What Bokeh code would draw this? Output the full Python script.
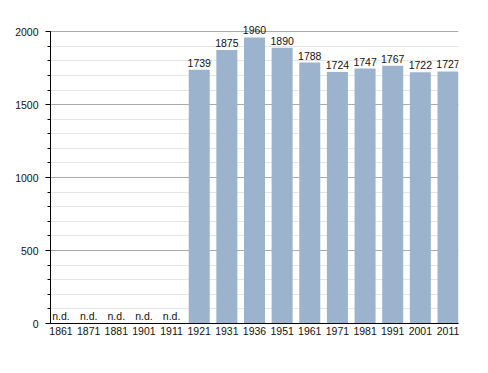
from bokeh.plotting import figure
from bokeh.models import Range1d, FixedTicker, ColumnDataSource
from bokeh.core.properties import value
from bokeh.embed import file_html
from bokeh.resources import INLINE

years = ["1861", "1871", "1881", "1901", "1911", "1921", "1931", "1936",
         "1951", "1961", "1971", "1981", "1991", "2001", "2011"]
population = [None, None, None, None, None, 1739, 1875, 1960,
              1890, 1788, 1724, 1747, 1767, 1722, 1727]
y_ticks = [0, 500, 1000, 1500, 2000]

FONT = "Liberation Sans"
FS = "10.5px"
BAR = "#9bb3cc"

idx = list(range(len(years)))
have = [i for i in idx if population[i] is not None]
nd = [i for i in idx if population[i] is None]

bars = ColumnDataSource(dict(x=have, top=[population[i] for i in have],
                             label=[str(population[i]) for i in have]))
nds = ColumnDataSource(dict(x=nd, y=[0] * len(nd), label=["n.d."] * len(nd)))

p = figure(frame_width=408, frame_height=305, output_backend="svg",
           toolbar_location=None, x_range=Range1d(-0.38, len(years) - 1 + 0.38),
           y_range=Range1d(0, 2090), min_border_left=50, min_border_top=18,
           min_border_right=12, min_border_bottom=20)
p.outline_line_color = None
p.background_fill_color = "white"

p.vbar(x="x", top="top", width=0.76, source=bars, color=BAR, line_color=None)

p.text(x="x", y="top", text="label", source=bars, text_align="center",
       text_baseline="bottom", y_offset=-3, text_font=value(FONT),
       text_font_size=FS, text_color="#111111")
p.text(x="x", y="y", text="label", source=nds, text_align="center",
       text_baseline="bottom", y_offset=-2, text_font=value(FONT),
       text_font_size=FS, text_color="#111111")

# x axis
p.xaxis.ticker = FixedTicker(ticks=idx)
p.xaxis.major_label_overrides = {i: years[i] for i in idx}
p.xaxis.major_tick_out = 0
p.xaxis.major_tick_in = 0
p.xaxis.minor_tick_out = 0
p.xaxis.axis_line_color = "black"
p.xaxis.major_label_standoff = 3
p.xaxis.major_label_text_font = FONT
p.xaxis.major_label_text_font_size = FS
p.xaxis.major_label_text_color = "#111111"
p.xgrid.grid_line_color = None

# y axis
p.yaxis.ticker = FixedTicker(ticks=y_ticks, minor_ticks=list(range(0, 2001, 100)))
p.yaxis.bounds = (0, 2000)
p.yaxis.major_tick_out = 5
p.yaxis.major_tick_in = 0
p.yaxis.minor_tick_out = 3
p.yaxis.minor_tick_in = 0
p.yaxis.axis_line_color = "black"
p.yaxis.major_tick_line_color = "black"
p.yaxis.minor_tick_line_color = "black"
p.yaxis.major_label_standoff = 7
p.yaxis.major_label_text_font = FONT
p.yaxis.major_label_text_font_size = FS
p.yaxis.major_label_text_color = "#111111"
p.ygrid.grid_line_color = "#aaaaaa"
p.ygrid.minor_grid_line_color = "#e4e4e4"

open("out.html", "w").write(file_html(p, INLINE))
